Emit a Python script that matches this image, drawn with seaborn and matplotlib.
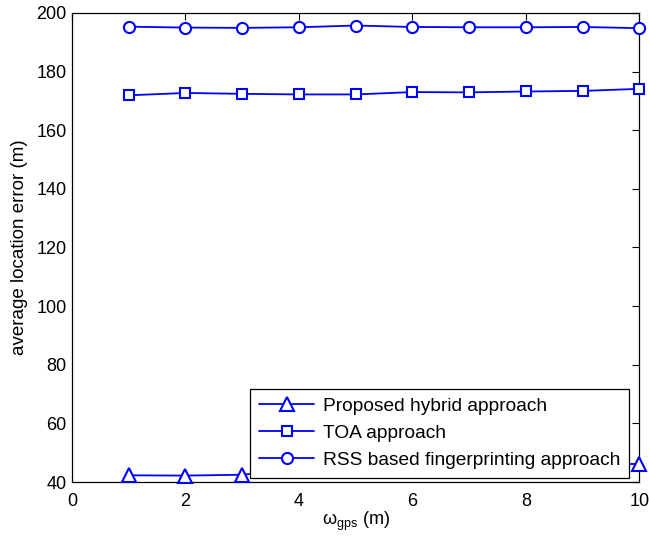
import numpy as np
import pandas as pd
import matplotlib
matplotlib.use("Agg")
import matplotlib.pyplot as plt
import seaborn as sns

# Average location error versus GPS noise level
omega_gps = [1, 2, 3, 4, 5, 6, 7, 8, 9, 10]
hybrid_err = [42.3, 42.2, 42.5, 44.5, 44.8, 45.0, 45.3, 45.6, 45.9, 46.2]
toa_err = [171.9, 172.7, 172.4, 172.2, 172.2, 173.0, 172.9, 173.2, 173.4, 174.1]
rss_err = [195.3, 195.0, 194.9, 195.1, 195.7, 195.2, 195.1, 195.1, 195.2, 194.8]

series_names = ["Proposed hybrid approach", "TOA approach",
                "RSS based fingerprinting approach"]
series_vals = [hybrid_err, toa_err, rss_err]
series_markers = ["^", "s", "o"]
series_msize = [9.5, 7.5, 8]

sns.set_theme(style="white")
plt.rcParams["font.family"] = ["Liberation Sans", "DejaVu Sans"]
plt.rcParams["mathtext.fontset"] = "custom"
plt.rcParams["mathtext.rm"] = "Liberation Sans"
plt.rcParams["mathtext.it"] = "Liberation Sans:italic"
plt.rcParams["text.color"] = "black"
plt.rcParams["axes.labelcolor"] = "black"

df = pd.concat(
    [pd.DataFrame({"omega": omega_gps, "err": v, "method": n})
     for n, v in zip(series_names, series_vals)],
    ignore_index=True,
)

fig = plt.figure(figsize=(6.49, 5.38), dpi=100)
ax = fig.add_axes([0.111, 0.104, 0.874, 0.872])

for name, mk, ms in zip(series_names, series_markers, series_msize):
    sub = df[df["method"] == name]
    sns.lineplot(data=sub, x="omega", y="err", ax=ax, color="#0000ff",
                 marker=mk, markersize=ms,
                 markerfacecolor="white", markeredgecolor="#0000ff",
                 markeredgewidth=1.5, linewidth=1.3, label=name,
                 clip_on=False, zorder=3)

ax.set_xlim(0, 10)
ax.set_ylim(40, 200)
ax.set_xticks(np.arange(0, 11, 2))
ax.set_yticks(np.arange(40, 201, 20))
ax.tick_params(direction="in", length=5, width=0.8, top=True, right=True,
               labelsize=13, colors="black", labelcolor="black")
ax.tick_params(axis="x", pad=8)
ax.tick_params(axis="y", pad=4)
for s in ax.spines.values():
    s.set_visible(True)
    s.set_color("black")
    s.set_linewidth(0.9)

ax.set_xlabel(r"$\mathrm{\omega}_{\mathrm{gps}}$ (m)", fontsize=13, labelpad=0)
ax.set_ylabel("average location error (m)", fontsize=13.5, labelpad=6)

leg = ax.legend(loc="lower right", bbox_to_anchor=(0.982, 0.009),
                borderaxespad=0, fontsize=13.8, frameon=True, fancybox=False,
                framealpha=1, edgecolor="black", handlelength=2.9,
                borderpad=0.45, labelspacing=0.5, handletextpad=0.45)
leg.get_frame().set_linewidth(0.9)
leg.set_zorder(5)
for t in leg.get_texts():
    t.set_color("black")

fig.savefig("out.png", dpi=100, facecolor="white")
